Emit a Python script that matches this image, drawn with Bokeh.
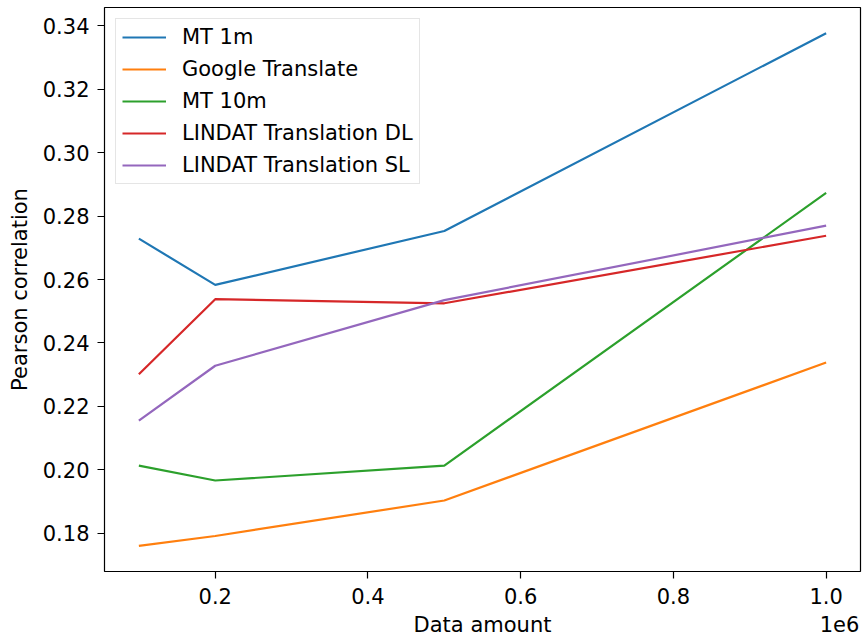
from bokeh.plotting import figure
from bokeh.models import Range1d, FixedTicker, LinearAxis
from bokeh.embed import file_html
from bokeh.resources import INLINE

data_amount = [100000, 200000, 500000, 1000000]
series_names = ["MT 1m", "Google Translate", "MT 10m", "LINDAT Translation DL", "LINDAT Translation SL"]
mt_1m = [0.2729, 0.2583, 0.2753, 0.3377]
google_translate = [0.1760, 0.1791, 0.1903, 0.2338]
mt_10m = [0.2013, 0.1966, 0.2013, 0.2873]
lindat_dl = [0.2301, 0.2538, 0.2525, 0.2738]
lindat_sl = [0.2155, 0.2328, 0.2535, 0.2770]
colors = ["#1f77b4", "#ff7f0e", "#2ca02c", "#d62728", "#9467bd"]
x_ticks = [200000, 400000, 600000, 800000, 1000000]
x_tick_labels = ["0.2", "0.4", "0.6", "0.8", "1.0"]
y_ticks = [0.18, 0.20, 0.22, 0.24, 0.26, 0.28, 0.30, 0.32, 0.34]
x_title = "Data amount"
y_title = "Pearson correlation"
offset_text = "1e6"

FONT = "DejaVu Sans"
FS = "21px"
X0, X1 = 55000, 1045000

p = figure(width=862, height=639, output_backend="svg", toolbar_location=None,
           x_range=Range1d(X0, X1), y_range=Range1d(0.1679, 0.3458),
           min_border_left=104, min_border_right=2, min_border_top=7, min_border_bottom=67)
p.background_fill_color = "white"
p.border_fill_color = "white"
p.outline_line_color = "black"
p.outline_line_width = 1.2
p.xgrid.visible = False
p.ygrid.visible = False

all_series = [mt_1m, google_translate, mt_10m, lindat_dl, lindat_sl]
for name, vals, c in zip(series_names, all_series, colors):
    p.line(data_amount, vals, line_color=c, line_width=2.2, legend_label=name)

p.xaxis.ticker = FixedTicker(ticks=x_ticks)
p.xaxis.major_label_overrides = {t: l for t, l in zip(x_ticks, x_tick_labels)}
p.yaxis.ticker = FixedTicker(ticks=y_ticks)
p.yaxis.major_label_overrides = {t: f"{t:.2f}" for t in y_ticks}

# second, tickless axis below carrying the x title and the offset text on one row
title_pos = (X0 + X1) / 2
offset_pos = X1 - 0.0277 * (X1 - X0)
ax2 = LinearAxis(ticker=FixedTicker(ticks=[title_pos, offset_pos]),
                 major_label_overrides={title_pos: x_title, offset_pos: offset_text})
p.add_layout(ax2, "below")

def style(ax):
    ax.axis_line_color = None
    ax.major_tick_in = 0
    ax.major_tick_out = 7
    ax.major_tick_line_width = 1.2
    ax.major_tick_line_color = "black"
    ax.minor_tick_line_color = None
    ax.major_label_text_font = FONT
    ax.major_label_text_font_size = FS
    ax.major_label_text_color = "black"
    ax.axis_label_text_font = FONT
    ax.axis_label_text_font_size = FS
    ax.axis_label_text_font_style = "normal"
    ax.axis_label_text_color = "black"

for ax in p.xaxis + p.yaxis:
    style(ax)

ax2.major_tick_out = 0
ax2.major_tick_line_color = None
ax2.major_label_standoff = 6

p.xaxis[0].major_label_standoff = 9
p.yaxis.axis_label = y_title
p.yaxis.major_label_standoff = 8
p.yaxis.axis_label_standoff = 8

lg = p.legend[0]
lg.location = "top_left"
lg.margin = 11
lg.padding = 6
lg.spacing = 8
lg.glyph_width = 44
lg.glyph_height = 20
lg.label_height = 20
lg.label_standoff = 16
lg.label_text_font = FONT
lg.label_text_font_size = FS
lg.label_text_color = "black"
lg.border_line_color = "#cccccc"
lg.border_line_width = 1
lg.background_fill_color = "white"
lg.background_fill_alpha = 0.8

open("out.html", "w").write(file_html(p, INLINE))
